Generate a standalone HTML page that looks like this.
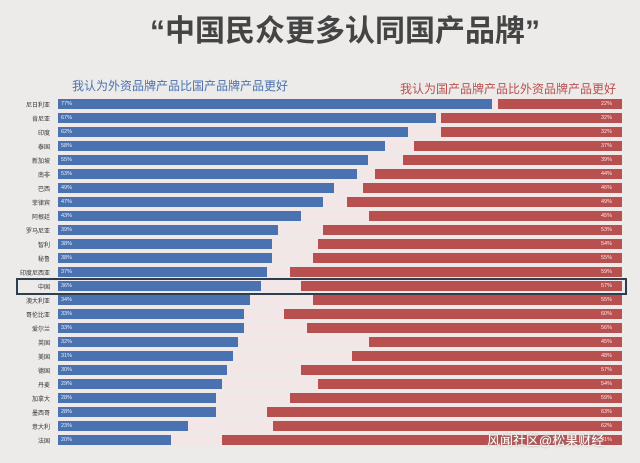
<!DOCTYPE html><html><head><meta charset="utf-8"><style>
body{margin:0;width:640px;height:463px;background:#ecebe9;position:relative;overflow:hidden;font-family:"Liberation Sans","Noto Sans CJK SC",sans-serif}
.t{position:absolute;white-space:nowrap}
.b{position:absolute;height:10px;background:#4a72b0}
.r{position:absolute;height:10px;background:#b8504f}
.s{position:absolute;left:58px;width:564px;height:12px;background:#f3e6e6}
.l{position:absolute;right:590px;font-size:6px;color:#333;white-space:nowrap}
.p{position:absolute;font-size:5.5px;color:#e8eef8}
.q{position:absolute;left:601px;font-size:5.5px;color:#f7e6e6}
</style></head><body>
<div class="t" style="left:150px;top:6px;font-size:30px;font-weight:bold;color:#444">“中国民众更多认同国产品牌”</div>
<div class="t" style="left:72px;top:77px;font-size:12px;color:#4a72b0">我认为外资品牌产品比国产品牌产品更好</div>
<div class="t" style="left:400px;top:80px;font-size:12px;color:#b8504f">我认为国产品牌产品比外资品牌产品更好</div>
<div id="c"></div>
<div class="t" style="left:16px;top:278px;width:607px;height:13px;border:2px solid #2f3e4e"></div>
<div class="t" style="left:487px;top:430px;font-size:13px;color:#fff;text-shadow:0 0 2px #888">风闻社区@松果财经</div>
<script>
var d=[["尼日利亚",77,22,498],["肯尼亚",67,32,441],["印度",62,32,441],["泰国",58,37,414],["新加坡",55,39,403],["南非",53,44,375],["巴西",49,46,363],["菲律宾",47,49,347],["阿根廷",43,45,369],["罗马尼亚",39,53,323],["智利",38,54,318],["秘鲁",38,55,313],["印度尼西亚",37,59,290],["中国",36,57,301],["澳大利亚",34,55,313],["哥伦比亚",33,60,284],["爱尔兰",33,56,307],["英国",32,45,369],["美国",31,48,352],["德国",30,57,301],["丹麦",29,54,318],["加拿大",28,59,290],["墨西哥",28,63,267],["意大利",23,62,273],["法国",20,71,222]];
var h="";d.forEach(function(e,i){var y=99+i*14;
h+='<div class="s" style="top:'+(y-1)+'px"></div>';
h+='<div class="b" style="left:58px;top:'+y+'px;width:'+(e[1]*5.64)+'px"></div>';
h+='<div class="r" style="left:'+e[3]+'px;top:'+y+'px;width:'+(622-e[3])+'px"></div>';
h+='<div class="l" style="top:'+(y+1)+'px">'+e[0]+'</div>';
h+='<div class="p" style="left:61px;top:'+(y+2)+'px">'+e[1]+'%</div>';
h+='<div class="q" style="top:'+(y+2)+'px">'+e[2]+'%</div>';});
document.getElementById("c").innerHTML=h;
</script>
</body></html>
